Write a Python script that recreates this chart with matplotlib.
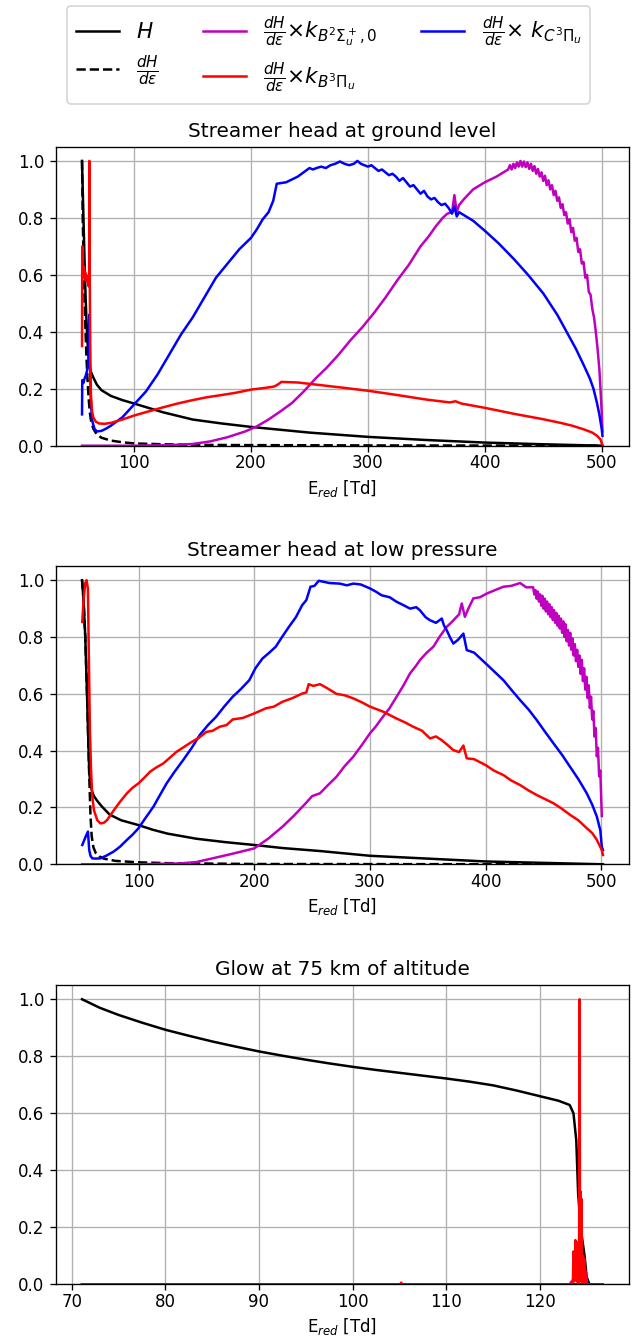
import matplotlib
matplotlib.use('Agg')
import matplotlib.pyplot as plt

# ---- streamer head at ground level ----
g_h_x = [55.4, 56, 57, 58, 59, 60, 61, 62, 63, 65, 68, 72, 80, 90, 100, 125, 150, 175, 200, 250, 300, 350, 400, 450, 500.7]
g_h_y = [1.0, 0.9, 0.74, 0.58, 0.46, 0.37, 0.31, 0.275, 0.26, 0.24, 0.215, 0.195, 0.175, 0.16, 0.148, 0.117, 0.092, 0.078, 0.066, 0.046, 0.031, 0.02, 0.011, 0.005, 0.0]
g_dh_x = [55.4, 56, 57, 58, 59, 60, 61, 62, 63, 65, 68, 72, 80, 90, 100, 125, 150, 200, 300, 500.7]
g_dh_y = [1.0, 0.8, 0.6, 0.45, 0.33, 0.24, 0.17, 0.12, 0.09, 0.06, 0.04, 0.028, 0.018, 0.012, 0.008, 0.005, 0.003, 0.002, 0.001, 0.0]
g_red_x = [55.4, 55.6, 56, 56.5, 57, 57.5, 58, 58.5, 59, 60, 61, 61.5, 61.7, 62, 62.5, 63, 64, 65, 67, 70, 75, 80, 90, 100, 112, 125, 137, 150, 162, 175, 187, 200, 212, 220, 223, 226, 240, 259, 280, 300, 325, 350, 370, 375, 380, 400, 425, 450, 465, 475, 485, 492, 496, 499, 500.7]
g_red_y = [0.35, 0.7, 0.62, 0.6, 0.63, 0.59, 0.61, 0.58, 0.6, 0.58, 0.56, 0.6, 1.0, 0.6, 0.3, 0.18, 0.12, 0.1, 0.085, 0.078, 0.077, 0.08, 0.092, 0.106, 0.12, 0.135, 0.148, 0.16, 0.17, 0.178, 0.186, 0.197, 0.203, 0.208, 0.215, 0.224, 0.222, 0.213, 0.203, 0.193, 0.178, 0.162, 0.152, 0.156, 0.148, 0.133, 0.112, 0.093, 0.08, 0.07, 0.057, 0.046, 0.035, 0.022, 0.0]
g_blue_x = [55.4, 55.6, 56.5, 57.5, 58.5, 59.5, 60.5, 61.3, 61.7, 62.2, 63, 64, 66, 68, 72, 76, 80, 90, 100, 110, 120, 130, 140, 150, 160, 170, 180, 190, 200, 205, 210, 215, 219, 222, 230, 240,
            245, 250, 253, 256, 260, 264, 268, 272, 276, 280, 284, 288, 291, 294, 297, 300, 303, 306, 309, 312, 315, 318, 321, 324, 327, 330, 333, 336, 339, 342, 345, 348, 351, 354, 357, 360, 363, 366, 369, 372, 374, 376, 378, 380, 384, 390,
            400, 412, 425, 437, 450, 462, 470, 478, 485, 490, 493, 496, 498, 500, 500.7]
g_blue_y = [0.11, 0.23, 0.22, 0.235, 0.245, 0.26, 0.28, 0.32, 0.46, 0.3, 0.15, 0.09, 0.06, 0.05, 0.052, 0.06, 0.07, 0.1, 0.145, 0.19, 0.25, 0.32, 0.39, 0.45, 0.52, 0.59, 0.64, 0.69, 0.73, 0.76, 0.795, 0.82, 0.86, 0.92, 0.925, 0.945,
            0.96, 0.975, 0.97, 0.975, 0.98, 0.975, 0.985, 0.99, 0.998, 0.99, 0.985, 0.99, 1.0, 0.99, 0.985, 0.98, 0.985, 0.975, 0.965, 0.97, 0.96, 0.95, 0.955, 0.945, 0.93, 0.94, 0.925, 0.91, 0.915, 0.9, 0.885, 0.895, 0.875, 0.865, 0.87, 0.855, 0.845, 0.85, 0.835, 0.815, 0.84, 0.805, 0.82, 0.815, 0.805, 0.79,
            0.755, 0.71, 0.655, 0.6, 0.535, 0.46, 0.4, 0.34, 0.28, 0.235, 0.2, 0.15, 0.11, 0.06, 0.035]
g_mag_x = [55.4, 100, 130, 150, 165, 180, 195, 205, 215, 225, 235, 245, 255, 265, 275, 285, 295, 305, 315, 325, 335, 345, 352, 358, 364, 368, 372, 374, 376, 378, 382, 390, 400, 410,
           420, 421.5, 423, 424.5, 426, 427.5, 429, 430.5, 432, 433.5, 435, 436.5, 438, 439.5, 441, 442.5, 444, 445.5, 447, 448.5, 450, 451.5, 453, 454.5, 456, 457.5, 459, 460.5, 462, 463.5, 465, 466.5, 468, 469.5, 471, 472.5, 474, 475.5, 477, 478.5, 480, 481.5, 483, 484.5, 486, 487.5, 489, 490.5, 492, 493.5, 495, 496.5, 498, 499, 500, 500.7]
g_mag_y = [0.0, 0.0, 0.002, 0.006, 0.015, 0.03, 0.05, 0.068, 0.092, 0.12, 0.15, 0.19, 0.235, 0.275, 0.32, 0.37, 0.415, 0.465, 0.52, 0.58, 0.635, 0.7, 0.735, 0.77, 0.8, 0.815, 0.82, 0.88, 0.82, 0.845, 0.865, 0.9, 0.925, 0.945,
           0.97, 0.985, 0.97, 0.99, 0.975, 0.995, 0.98, 1.0, 0.98, 0.998, 0.978, 0.995, 0.972, 0.99, 0.965, 0.982, 0.955, 0.972, 0.945, 0.96, 0.93, 0.948, 0.915, 0.932, 0.9, 0.915, 0.88, 0.895, 0.86, 0.872, 0.835, 0.848, 0.81, 0.82, 0.78, 0.795, 0.75, 0.765, 0.72, 0.73, 0.68, 0.69, 0.64, 0.645, 0.59, 0.6, 0.54, 0.53, 0.48, 0.45, 0.4, 0.34, 0.27, 0.2, 0.12, 0.05]

# ---- streamer head at low pressure ----
p_h_x = [51.2, 52.5, 54, 55.5, 56.5, 57.5, 58.5, 60, 61.5, 64, 68, 75, 85, 100, 112, 125, 150, 175, 200, 225, 256, 300, 350, 400, 450, 501.3]
p_h_y = [1.0, 0.93, 0.8, 0.6, 0.45, 0.32, 0.28, 0.255, 0.24, 0.225, 0.205, 0.175, 0.155, 0.138, 0.122, 0.108, 0.09, 0.078, 0.068, 0.057, 0.047, 0.03, 0.02, 0.01, 0.005, 0.0]
p_dh_x = [51.2, 52.5, 54, 55.5, 56.5, 57.5, 58.5, 59.5, 61, 63, 66, 70, 80, 100, 125, 150, 200, 501.3]
p_dh_y = [1.0, 0.93, 0.8, 0.6, 0.45, 0.3, 0.17, 0.1, 0.06, 0.04, 0.028, 0.02, 0.012, 0.007, 0.004, 0.003, 0.001, 0.0]
p_red_x = [51.4, 52.5, 54, 55.1, 56.3, 57, 58, 59, 60, 61.5, 64.3, 67, 70, 72.9, 78.6, 84, 90, 95, 100, 105, 110, 115, 121.4, 127, 132.9, 140, 145.7, 152, 158.6, 164, 170, 176, 181.4, 190, 200, 210, 217, 224.3, 233, 241.4, 245, 247, 251, 256.8, 263, 271, 278, 285.6, 293, 300, 311.5, 323, 330, 337.5, 345, 351.9, 357, 362, 367, 372, 377, 380.7, 383.6, 390, 400, 407, 415.3, 422, 429.7, 437, 444, 451, 458.5, 466, 472.9, 480, 487.3, 492, 496, 500.3, 501.3]
p_red_y = [0.853, 0.93, 0.99, 1.0, 0.97, 0.75, 0.47, 0.33, 0.24, 0.19, 0.156, 0.144, 0.146, 0.156, 0.19, 0.22, 0.25, 0.27, 0.285, 0.305, 0.326, 0.34, 0.355, 0.375, 0.396, 0.415, 0.43, 0.445, 0.466, 0.47, 0.484, 0.49, 0.51, 0.515, 0.531, 0.549, 0.555, 0.572, 0.585, 0.601, 0.605, 0.634, 0.628, 0.634, 0.62, 0.6, 0.595, 0.584, 0.57, 0.555, 0.537, 0.513, 0.5, 0.484, 0.47, 0.443, 0.45, 0.437, 0.42, 0.402, 0.395, 0.418, 0.373, 0.37, 0.349, 0.33, 0.314, 0.295, 0.279, 0.26, 0.244, 0.23, 0.215, 0.195, 0.174, 0.155, 0.127, 0.11, 0.086, 0.05, 0.033]
p_blue_x = [51.4, 54.3, 56.3, 57.4, 58.5, 60, 63, 67, 72, 78.6, 84, 90, 95, 100, 106, 112.9, 118, 124.3, 131, 138.6, 146, 152.9, 160, 167, 174, 181.4, 188, 195.7, 201, 207, 213, 218.6, 224, 230, 236, 241.4, 245, 248.6, 252, 255.7, 265, 274, 280, 285.6, 292, 300, 305, 310, 317, 323, 329, 334.6, 340, 343.2, 348, 351.9, 357, 362, 364, 366.3, 369, 372, 376, 380.7, 383.6, 390, 400, 407, 415.3, 422, 429.7, 437, 444, 451, 458.5, 466, 472.9, 480, 487.3, 492, 496, 499, 500.3, 501.3]
p_blue_y = [0.068, 0.097, 0.115, 0.05, 0.03, 0.021, 0.02, 0.021, 0.03, 0.045, 0.062, 0.086, 0.105, 0.127, 0.163, 0.203, 0.24, 0.285, 0.325, 0.367, 0.41, 0.455, 0.49, 0.519, 0.555, 0.59, 0.615, 0.648, 0.69, 0.724, 0.745, 0.766, 0.8, 0.836, 0.87, 0.912, 0.93, 0.977, 0.98, 0.998, 0.99, 0.988, 0.982, 0.988, 0.985, 0.971, 0.96, 0.947, 0.94, 0.924, 0.912, 0.9, 0.905, 0.894, 0.87, 0.859, 0.85, 0.865, 0.84, 0.824, 0.8, 0.777, 0.79, 0.812, 0.754, 0.745, 0.707, 0.68, 0.648, 0.615, 0.578, 0.545, 0.508, 0.468, 0.426, 0.385, 0.343, 0.3, 0.25, 0.21, 0.168, 0.12, 0.062, 0.05]
p_mag_x = [51.4, 100, 135.7, 150, 164, 180, 200, 212, 224.3, 234, 244.3, 250, 256.8, 264, 271, 278, 285.6, 293, 300, 305, 310, 317, 323, 329, 334.6, 340, 343.2, 349, 354.8, 360, 366.3, 370, 373.5, 377, 379.3, 382, 385, 389.3, 395, 400.9, 408, 415.3, 422, 429.7, 435,
           441, 442, 443, 444, 445, 446, 447, 448, 449, 450, 451, 452, 453, 454, 455, 456, 457, 458, 459, 460, 461, 462, 463, 464, 465, 466, 467, 468, 469, 470, 471, 472, 473, 474, 475, 476, 477, 478, 479, 480, 481, 482, 483, 484, 485, 486, 487, 488, 489, 490, 491, 492, 493, 494, 495, 496, 497, 498, 499, 500.3]
p_mag_y = [0.0, 0.0, 0.003, 0.008, 0.021, 0.036, 0.056, 0.09, 0.132, 0.17, 0.214, 0.24, 0.25, 0.28, 0.308, 0.345, 0.379, 0.42, 0.461, 0.485, 0.513, 0.55, 0.59, 0.63, 0.672, 0.7, 0.719, 0.745, 0.766, 0.8, 0.836, 0.85, 0.865, 0.88, 0.918, 0.871, 0.9, 0.936, 0.94, 0.953, 0.965, 0.977, 0.98, 0.99, 0.975,
           0.975, 0.95, 0.965, 0.935, 0.96, 0.925, 0.95, 0.91, 0.945, 0.9, 0.935, 0.89, 0.925, 0.88, 0.915, 0.87, 0.905, 0.86, 0.895, 0.85, 0.885, 0.84, 0.875, 0.83, 0.865, 0.815, 0.855, 0.8, 0.845, 0.785, 0.825, 0.77, 0.815, 0.755, 0.795, 0.735, 0.775, 0.715, 0.755, 0.695, 0.735, 0.67, 0.72, 0.645, 0.69, 0.615, 0.66, 0.585, 0.63, 0.55, 0.59, 0.51, 0.54, 0.45, 0.48, 0.38, 0.41, 0.31, 0.33, 0.17]

# ---- glow at 75 km ----
w_h_x = [71.1, 73, 75, 77.5, 80, 82.5, 85, 87.5, 90, 92.5, 95, 97.5, 100, 102.5, 105, 107.5, 110, 112.5, 115, 117.5, 120, 122, 123.2, 123.6, 123.9, 124.1, 124.4, 124.8, 125.0, 125.3, 126.7]
w_h_y = [1.0, 0.97, 0.945, 0.918, 0.893, 0.872, 0.852, 0.834, 0.817, 0.802, 0.788, 0.775, 0.763, 0.752, 0.742, 0.732, 0.722, 0.711, 0.698, 0.68, 0.66, 0.644, 0.629, 0.6, 0.506, 0.319, 0.19, 0.097, 0.027, 0.0, 0.0]
w_dh_x = [71.1, 126.7]
w_dh_y = [0.0, 0.0]
w_red_x = [71.1, 105.1, 105.2, 105.3, 123.4, 123.55, 123.6, 123.65, 123.7, 123.75, 123.8, 123.85, 123.9, 123.95, 124.0, 124.05, 124.1, 124.15, 124.2, 124.26, 124.3, 124.35, 124.4, 124.45, 124.5, 124.55, 124.6, 124.65, 124.7, 124.75, 124.8, 124.85, 124.9, 125.0, 126.7]
w_red_y = [0, 0, 0.006, 0, 0, 0.02, 0.115, 0.01, 0.11, 0.02, 0.155, 0.03, 0.15, 0.01, 0.14, 0.02, 0.12, 0.0, 0.05, 1.0, 0.02, 0.325, 0.01, 0.3, 0.02, 0.06, 0.0, 0.097, 0.01, 0.09, 0.0, 0.05, 0.0, 0.0, 0.0]
w_blue_x = [71.1, 126.7]
w_blue_y = [0.0, 0.0]
w_mag_x = [71.1, 123.2, 123.4, 123.5, 124.8, 124.95, 125.05, 126.7]
w_mag_y = [0.0, 0.0, 0.01, 0.0, 0.0, 0.04, 0.0, 0.0]

titles = ['Streamer head at ground level', 'Streamer head at low pressure', 'Glow at 75 km of altitude']
labels = [r'$H$', r'$\frac{dH}{d\varepsilon}$',
          r'$\frac{dH}{d\varepsilon}{\times}k_{B^2\Sigma_u^+,0}$',
          r'$\frac{dH}{d\varepsilon}{\times}k_{B^3\Pi_u}$',
          r'$\frac{dH}{d\varepsilon}{\times}\ k_{C^3\Pi_u}$']

panels = [
    (g_h_x, g_h_y, g_dh_x, g_dh_y, g_mag_x, g_mag_y, g_blue_x, g_blue_y, g_red_x, g_red_y),
    (p_h_x, p_h_y, p_dh_x, p_dh_y, p_mag_x, p_mag_y, p_blue_x, p_blue_y, p_red_x, p_red_y),
    (w_h_x, w_h_y, w_dh_x, w_dh_y, w_mag_x, w_mag_y, w_blue_x, w_blue_y, w_red_x, w_red_y),
]

W, H = 639, 1337
fig = plt.figure(figsize=(W / 120, H / 120), dpi=120)
# axes boxes in pixels: left, top, right, bottom
boxes = [(56, 146.7, 628.5, 445.7), (56, 566, 629, 864.3), (56, 985, 628.5, 1284.3)]

handles = None
for (hx, hy, dx, dy, mx, my, bx, by, rx, ry), title, (l, t, r, b) in zip(panels, titles, boxes):
    ax = fig.add_axes([l / W, 1 - b / H, (r - l) / W, (b - t) / H])
    lh, = ax.plot(hx, hy, 'k-')
    ld, = ax.plot(dx, dy, 'k--')
    lm, = ax.plot(mx, my, 'm-')
    lb, = ax.plot(bx, by, 'b-')
    lr, = ax.plot(rx, ry, 'r-')
    ax.set_ylim(bottom=0)
    ax.grid(True)
    ax.tick_params(axis='x', pad=1.5)
    ax.set_title(title)
    ax.set_xlabel(r'E$_{red}$ [Td]', labelpad=3.5)
    if handles is None:
        handles = [lh, ld, lm, lr, lb]

fig.legend(handles, labels, ncol=3, loc='upper left', fontsize=13,
           bbox_to_anchor=(67 / W, 1 - 6 / H), borderaxespad=0)

fig.savefig('out.png', dpi=120)
